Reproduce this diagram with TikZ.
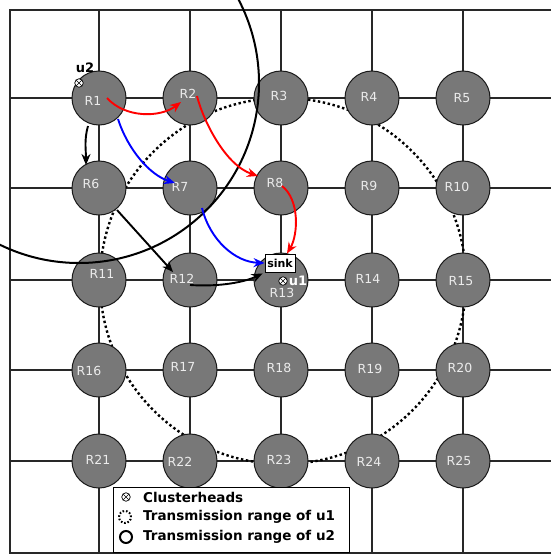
\documentclass[tikz,border=0pt]{standalone}
\usepackage{fontspec}
\setmainfont{DejaVu Sans}
\usetikzlibrary{arrows.meta}
\definecolor{nodegray}{RGB}{120,120,120}
\definecolor{labelgray}{RGB}{236,236,236}
\definecolor{linegray}{RGB}{40,40,40}
\begin{document}
\begin{tikzpicture}[x=1pt,y=-1pt,
  router/.style={circle,draw=black!90,line width=1pt,fill=nodegray,minimum size=54pt,inner sep=0pt},
  rlabel/.style={text=labelgray,font=\fontsize{12.5}{12.5}\selectfont,inner sep=0pt},
  gridline/.style={draw=linegray,line width=1.2pt},
  arr/.style={line width=1.9pt,-{Stealth[length=11pt,width=9pt]}},
  chmark/.style={circle,draw=black,fill=white,line width=0.7pt,minimum size=8.5pt,inner sep=0pt,
    path picture={\draw[line width=0.6pt] (path picture bounding box.north west)--(path picture bounding box.south east)
      (path picture bounding box.north east)--(path picture bounding box.south west);}},
  rangedot/.style={draw=black,line width=2.4pt,dash pattern=on 2.4pt off 2.6pt},
  rangesolid/.style={draw=black,line width=2pt},
  legtext/.style={font=\bfseries\fontsize{13.5}{14}\selectfont,anchor=west,inner sep=0pt},
]
\useasboundingbox (0,0) rectangle (551,555);
\begin{scope}
\clip (0,0) rectangle (551,555);
% grid
\foreach \x in {99,190,281,372,463} \draw[gridline] (\x,10) -- (\x,553);
\foreach \y in {98,188,280,370,461} \draw[gridline] (10,\y) -- (551,\y);
\draw[gridline] (551,10) -- (10,10) -- (10,553) -- (551,553);
% clusterhead positions
\coordinate (u1pos) at (283,281);
\coordinate (u2pos) at (79,83);
% transmission range of u1
\draw[rangedot] (u1pos) circle[radius=183pt];
% routers
\foreach \i/\x/\y in {1/99/98,2/190/98,3/281/98,4/372/98,5/463/98,
  6/99/188,7/190/188,8/281/188,9/372/188,10/463/188,
  11/99/280,12/190/280,13/281/280,14/372/280,15/463/280,
  16/99/370,17/190/370,18/281/370,19/372/370,20/463/370,
  21/99/461,22/190/461,23/281/461,24/372/461,25/463/461}
  \node[router] (R\i) at (\x,\y) {};
% router labels
\foreach \i/\x/\y in {1/93/101,2/188/94,3/279/96,4/369/97,5/462/98,
  6/91/184,7/180/187,8/275/183,9/369/186,10/457/187,
  11/102/274,12/182/279,13/282/293,14/368/279,15/461/281,
  16/89/371,17/183/367,18/279/368,19/370/369,20/460/368,
  21/98/460,22/180/462,23/279/460,24/369/462,25/459/461}
  \node[rlabel] (L\i) at (\x,\y) {R\i};
% transmission range of u2
\draw[rangesolid] (u2pos) circle[radius=180pt];
\end{scope}
% sink
\node[draw=black,fill=white,line width=0.9pt,minimum width=30pt,minimum height=18pt,inner sep=0pt,
  font=\bfseries\fontsize{11}{11}\selectfont] (sink) at (280,263) {sink};
% red path
\draw[arr,red] ([shift={(8,0)}]R1.center) .. controls ([shift={(26,20)}]R1.center) and ([shift={(-30,20)}]R2.center) .. ([shift={(-9,4)}]R2.center);
\draw[arr,red] ([shift={(7,-2)}]R2.center) .. controls ([shift={(13,22)}]R2.center) and ([shift={(-56,-23)}]R8.center) .. ([shift={(-23,-12)}]R8.center);
\draw[arr,red] ([shift={(1,-2)}]R8.center) .. controls ([shift={(19,12)}]R8.center) and ([shift={(18,-28)}]sink.center) .. ([shift={(7,0)}]sink.north);
% blue path
\draw[arr,blue] ([shift={(19,21)}]R1.center) .. controls ([shift={(29,52)}]R1.center) and ([shift={(-40,-13)}]R7.center) .. ([shift={(-15,-5)}]R7.center);
\draw[arr,blue] ([shift={(12,20)}]R7.center) .. controls ([shift={(20,52)}]R7.center) and ([shift={(-45,-1)}]sink.center) .. (sink.west);
% black path
\draw[arr,black] ([shift={(-11,28)}]R1.center) .. controls ([shift={(-15,42)}]R1.center) and ([shift={(-13,-38)}]R6.center) .. ([shift={(-13,-23)}]R6.center);
\draw[arr,black] ([shift={(18,22)}]R6.center) -- ([shift={(-17,-8)}]R12.center);
\draw[arr,black] ([shift={(0,5)}]R12.center) .. controls ([shift={(30,7)}]R12.center) and ([shift={(-35,19)}]sink.center) .. ([shift={(-2,1)}]sink.south west);
% clusterheads
\node[chmark] (u1) at (u1pos) {};
\node[chmark] (u2) at (u2pos) {};
\node[font=\bfseries\fontsize{13}{13}\selectfont,text=white,inner sep=0pt] (u1lab) at (298,281) {u1};
\node[font=\bfseries\fontsize{13}{13}\selectfont,inner sep=0pt] (u2lab) at (85,68) {u2};
% legend
\node[draw=black,fill=white,line width=1pt,minimum width=236pt,minimum height=65pt,inner sep=0pt,anchor=north west] (legend) at (113,487) {};
\node[chmark] (legch) at (126,497) {};
\node[legtext] (legt1) at (143,497) {Clusterheads};
\draw[draw=black,line width=2pt,dash pattern=on 1.6pt off 1.8pt] (125,517) circle[radius=6pt];
\node[legtext] (legt2) at (143,517) {Transmission range of u1};
\draw[draw=black,line width=2pt] (126,537) circle[radius=6pt];
\node[legtext] (legt3) at (143,537) {Transmission range of u2};
\end{tikzpicture}
\end{document}
